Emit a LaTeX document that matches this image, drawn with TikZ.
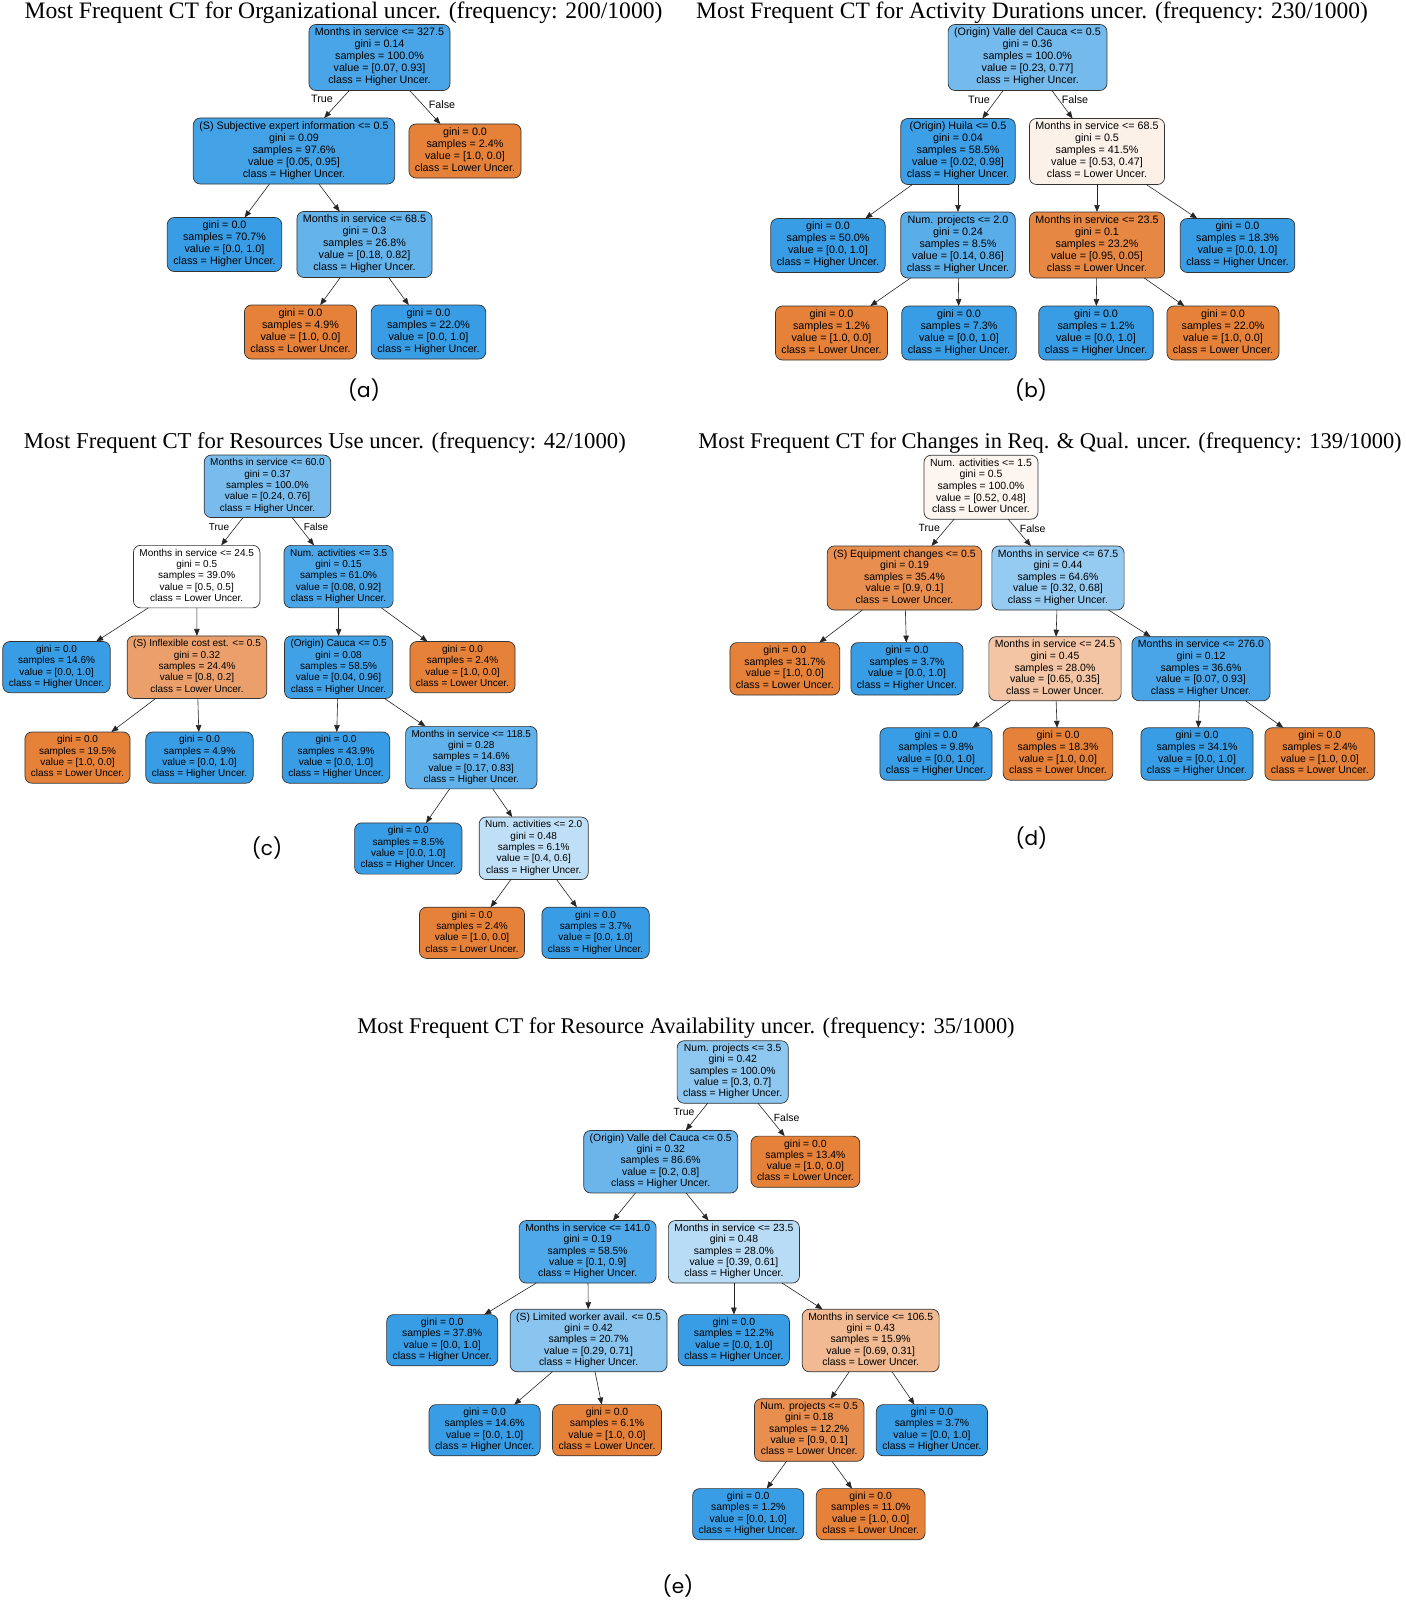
\documentclass[tikz,border=0pt]{standalone}
\usepackage{fontspec}
\setmainfont{Liberation Serif}
\setsansfont{Liberation Sans}
\newfontfamily\capfont{Poppins}
\usetikzlibrary{arrows.meta}

\definecolor{hi}{RGB}{57,157,229}
\definecolor{lo}{RGB}{229,129,57}

% node texts
\newcommand{\cut}[5]{\strut #1\\gini = #2\\samples = #3\\value = #4\\class = #5\strut}
\newcommand{\lhi}[1]{\strut gini = 0.0\\samples = #1\\value = [0.0, 1.0]\\class = Higher Uncer.\strut}
\newcommand{\llo}[1]{\strut gini = 0.0\\samples = #1\\value = [1.0, 0.0]\\class = Lower Uncer.\strut}

\begin{document}
\begin{tikzpicture}[x=1pt,y=-1pt,
  tnode/.style={draw=black!80,line width=0.7pt,rounded corners=7pt,align=center,inner xsep=6pt,inner ysep=3pt,outer sep=0pt},
  arr/.style={draw=black!85,line width=0.6pt,-{Triangle[length=7pt,width=5.5pt]}},
  ttl/.style={font=\rmfamily\fontsize{#1}{27}\selectfont,anchor=base},
  sublab/.style={font=\capfont\fontsize{20}{24}\selectfont},
  panel/.style 2 args={every node/.append style={font=\sffamily\fontsize{#1}{#2}\selectfont}}]
\fill[white] (0,0) rectangle (1405,1600);
\useasboundingbox (0,0) rectangle (1405,1600);

% (a) organizational
\begin{scope}[panel={10.75}{12}]
\node[ttl=23.6] (ta) at (343.5,18.3) {Most Frequent CT for Organizational uncer. (frequency: 200/1000)};
\node[tnode,fill=hi!92!white] (a0) at (379.5,57.5) {\cut{Months in service <= 327.5}{0.14}{100.0\%}{[0.07, 0.93]}{Higher Uncer.}};
\node[tnode,fill=hi!95!white] (a1) at (294,151) {\cut{(S) Subjective expert information <= 0.5}{0.09}{97.6\%}{[0.05, 0.95]}{Higher Uncer.}};
\node[tnode,fill=lo] (a2) at (465,151) {\llo{2.4\%}};
\node[tnode,fill=hi] (a3) at (224.5,244.5) {\lhi{70.7\%}};
\node[tnode,fill=hi!78!white] (a4) at (364.5,244.5) {\cut{Months in service <= 68.5}{0.3}{26.8\%}{[0.18, 0.82]}{Higher Uncer.}};
\node[tnode,fill=lo] (a5) at (300.5,332) {\llo{4.9\%}};
\node[tnode,fill=hi] (a6) at (428.5,332) {\lhi{22.0\%}};
\foreach \p/\c in {a0/a1,a0/a2,a1/a3,a1/a4,a4/a5,a4/a6} \draw[arr] (\p) -- (\c);
\node (at) at (322,99) {True};
\node (af) at (442,105) {False};
\node[sublab] (ca) at (364,390) {(a)};
\end{scope}

% (b) activity durations
\begin{scope}[panel={10.75}{12}]
\node[ttl=23.5] (tb) at (1032,18.3) {Most Frequent CT for Activity Durations uncer. (frequency: 230/1000)};
\node[tnode,fill=hi!70!white] (b0) at (1027.5,57.5) {\cut{(Origin) Valle del Cauca <= 0.5}{0.36}{100.0\%}{[0.23, 0.77]}{Higher Uncer.}};
\node[tnode,fill=hi!98!white] (b1) at (958,151.5) {\cut{(Origin) Huila <= 0.5}{0.04}{58.5\%}{[0.02, 0.98]}{Higher Uncer.}};
\node[tnode,fill=lo!11!white] (b2) at (1097,151.5) {\cut{Months in service <= 68.5}{0.5}{41.5\%}{[0.53, 0.47]}{Lower Uncer.}};
\node[tnode,fill=hi] (b3) at (828,245.5) {\lhi{50.0\%}};
\node[tnode,fill=hi!84!white] (b4) at (958,245) {\cut{Num. projects <= 2.0}{0.24}{8.5\%}{[0.14, 0.86]}{Higher Uncer.}};
\node[tnode,fill=lo!95!white] (b5) at (1097,245) {\cut{Months in service <= 23.5}{0.1}{23.2\%}{[0.95, 0.05]}{Lower Uncer.}};
\node[tnode,fill=hi] (b6) at (1237.5,245.5) {\lhi{18.3\%}};
\node[tnode,fill=lo] (b7) at (831.5,333) {\llo{1.2\%}};
\node[tnode,fill=hi] (b8) at (959,333) {\lhi{7.3\%}};
\node[tnode,fill=hi] (b9) at (1096,333) {\lhi{1.2\%}};
\node[tnode,fill=lo] (b10) at (1223,333) {\llo{22.0\%}};
\foreach \p/\c in {b0/b1,b0/b2,b1/b3,b1/b4,b2/b5,b2/b6,b4/b7,b4/b8,b5/b9,b5/b10} \draw[arr] (\p) -- (\c);
\node (bt) at (979,100) {True};
\node (bf) at (1075,100) {False};
\node[sublab] (cb) at (1031,390) {(b)};
\end{scope}

% (c) resources use
\begin{scope}[panel={10}{11.3}]
\node[ttl=22.7] (tc) at (324.8,448.8) {Most Frequent CT for Resources Use uncer. (frequency: 42/1000)};
\node[tnode,fill=hi!68!white] (c0) at (267.5,486.3) {\cut{Months in service <= 60.0}{0.37}{100.0\%}{[0.24, 0.76]}{Higher Uncer.}};
\node[tnode,fill=white] (c1) at (196.7,576.6) {\cut{Months in service <= 24.5}{0.5}{39.0\%}{[0.5, 0.5]}{Lower Uncer.}};
\node[tnode,fill=hi!91!white] (c2) at (338.6,576.6) {\cut{Num. activities <= 3.5}{0.15}{61.0\%}{[0.08, 0.92]}{Higher Uncer.}};
\node[tnode,fill=hi] (c3) at (56.5,667.1) {\lhi{14.6\%}};
\node[tnode,fill=lo!75!white] (c4) at (197,667.2) {\cut{(S) Inflexible cost est. <= 0.5}{0.32}{24.4\%}{[0.8, 0.2]}{Lower Uncer.}};
\node[tnode,fill=hi!96!white] (c5) at (338.6,667.2) {\cut{(Origin) Cauca <= 0.5}{0.08}{58.5\%}{[0.04, 0.96]}{Higher Uncer.}};
\node[tnode,fill=lo] (c6) at (462.5,667.1) {\llo{2.4\%}};
\node[tnode,fill=lo] (c7) at (77.5,757.6) {\llo{19.5\%}};
\node[tnode,fill=hi] (c8) at (199.5,757.6) {\lhi{4.9\%}};
\node[tnode,fill=hi] (c9) at (336,757.6) {\lhi{43.9\%}};
\node[tnode,fill=hi!80!white] (c10) at (471.3,757.6) {\cut{Months in service <= 118.5}{0.28}{14.6\%}{[0.17, 0.83]}{Higher Uncer.}};
\node[tnode,fill=hi] (c11) at (408.3,848.5) {\lhi{8.5\%}};
\node[tnode,fill=hi!33!white] (c12) at (533.7,848.3) {\cut{Num. activities <= 2.0}{0.48}{6.1\%}{[0.4, 0.6]}{Higher Uncer.}};
\node[tnode,fill=lo] (c13) at (472,932.8) {\llo{2.4\%}};
\node[tnode,fill=hi] (c14) at (595.6,932.8) {\lhi{3.7\%}};
\foreach \p/\c in {c0/c1,c0/c2,c1/c3,c1/c4,c2/c5,c2/c6,c4/c7,c4/c8,c5/c9,c5/c10,c10/c11,c10/c12,c12/c13,c12/c14} \draw[arr] (\p) -- (\c);
\node (ct) at (219,527) {True};
\node (cf) at (316,527) {False};
\node[sublab] (cc) at (267,847.9) {(c)};
\end{scope}

% (d) changes in req. & qual.
\begin{scope}[panel={10.5}{11.6}]
\node[ttl=22.45] (td) at (1050,448.3) {Most Frequent CT for Changes in Req. \& Qual. uncer. (frequency: 139/1000)};
\node[tnode,fill=lo!8!white] (d0) at (981,487.2) {\cut{Num. activities <= 1.5}{0.5}{100.0\%}{[0.52, 0.48]}{Lower Uncer.}};
\node[tnode,fill=lo!89!white] (d1) at (904.5,578) {\cut{(S) Equipment changes <= 0.5}{0.19}{35.4\%}{[0.9, 0.1]}{Lower Uncer.}};
\node[tnode,fill=hi!53!white] (d2) at (1058,578) {\cut{Months in service <= 67.5}{0.44}{64.6\%}{[0.32, 0.68]}{Higher Uncer.}};
\node[tnode,fill=lo] (d3) at (784.8,668.8) {\llo{31.7\%}};
\node[tnode,fill=hi] (d4) at (907,668.8) {\lhi{3.7\%}};
\node[tnode,fill=lo!46!white] (d5) at (1055,668.7) {\cut{Months in service <= 24.5}{0.45}{28.0\%}{[0.65, 0.35]}{Lower Uncer.}};
\node[tnode,fill=hi!92!white] (d6) at (1201,668.7) {\cut{Months in service <= 276.0}{0.12}{36.6\%}{[0.07, 0.93]}{Higher Uncer.}};
\node[tnode,fill=hi] (d7) at (936,754) {\lhi{9.8\%}};
\node[tnode,fill=lo] (d8) at (1058,754) {\llo{18.3\%}};
\node[tnode,fill=hi] (d9) at (1197,754) {\lhi{34.1\%}};
\node[tnode,fill=lo] (d10) at (1319.8,754) {\llo{2.4\%}};
\foreach \p/\c in {d0/d1,d0/d2,d1/d3,d1/d4,d2/d5,d2/d6,d5/d7,d5/d8,d6/d9,d6/d10} \draw[arr] (\p) -- (\c);
\node (dt) at (929.3,528.3) {True};
\node (df) at (1032.7,528.3) {False};
\node[sublab] (cd) at (1031.4,838.3) {(d)};
\end{scope}

% (e) resource availability
\begin{scope}[panel={10.4}{11.3}]
\node[ttl=22.45] (te) at (686,1033.3) {Most Frequent CT for Resource Availability uncer. (frequency: 35/1000)};
\node[tnode,fill=hi!57!white] (e0) at (732.7,1072) {\cut{Num. projects <= 3.5}{0.42}{100.0\%}{[0.3, 0.7]}{Higher Uncer.}};
\node[tnode,fill=hi!75!white] (e1) at (660.7,1161.7) {\cut{(Origin) Valle del Cauca <= 0.5}{0.32}{86.6\%}{[0.2, 0.8]}{Higher Uncer.}};
\node[tnode,fill=lo] (e2) at (805.4,1161.7) {\llo{13.4\%}};
\node[tnode,fill=hi!89!white] (e3) at (587.7,1251.8) {\cut{Months in service <= 141.0}{0.19}{58.5\%}{[0.1, 0.9]}{Higher Uncer.}};
\node[tnode,fill=hi!36!white] (e4) at (733.9,1251.8) {\cut{Months in service <= 23.5}{0.48}{28.0\%}{[0.39, 0.61]}{Higher Uncer.}};
\node[tnode,fill=hi] (e5) at (442.2,1340.2) {\lhi{37.8\%}};
\node[tnode,fill=hi!59!white] (e6) at (588.6,1340.5) {\cut{(S) Limited worker avail. <= 0.5}{0.42}{20.7\%}{[0.29, 0.71]}{Higher Uncer.}};
\node[tnode,fill=hi] (e7) at (733.9,1340.2) {\lhi{12.2\%}};
\node[tnode,fill=lo!55!white] (e8) at (870.7,1340.5) {\cut{Months in service <= 106.5}{0.43}{15.9\%}{[0.69, 0.31]}{Lower Uncer.}};
\node[tnode,fill=hi] (e9) at (484.6,1430.2) {\lhi{14.6\%}};
\node[tnode,fill=lo] (e10) at (607,1430.2) {\llo{6.1\%}};
\node[tnode,fill=lo!89!white] (e11) at (809.2,1430) {\cut{Num. projects <= 0.5}{0.18}{12.2\%}{[0.9, 0.1]}{Lower Uncer.}};
\node[tnode,fill=hi] (e12) at (931.9,1430.2) {\lhi{3.7\%}};
\node[tnode,fill=hi] (e13) at (748.2,1514.2) {\lhi{1.2\%}};
\node[tnode,fill=lo] (e14) at (870.7,1514.2) {\llo{11.0\%}};
\foreach \p/\c in {e0/e1,e0/e2,e1/e3,e1/e4,e3/e5,e3/e6,e4/e7,e4/e8,e6/e9,e6/e10,e8/e11,e8/e12,e11/e13,e11/e14} \draw[arr] (\p) -- (\c);
\node (et) at (684,1112) {True};
\node (ef) at (786.6,1118) {False};
\node[sublab] (ce) at (678,1586) {(e)};
\end{scope}
\end{tikzpicture}
\end{document}
